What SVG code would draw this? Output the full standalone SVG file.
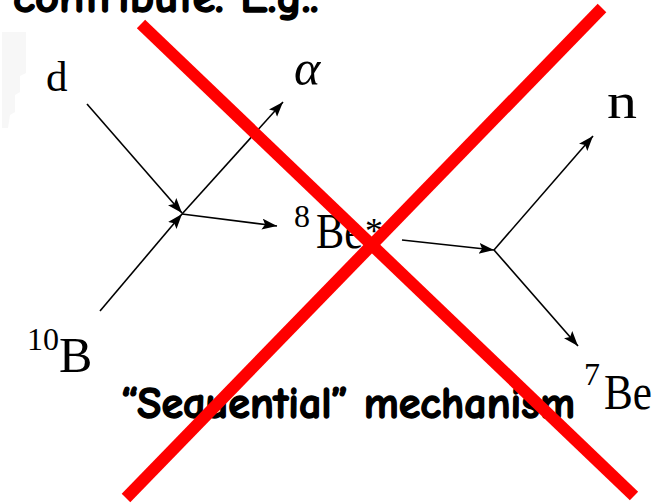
<svg xmlns="http://www.w3.org/2000/svg" width="663" height="504" viewBox="0 0 663 504">
<style>
.lbl{font-family:"Liberation Serif","Times New Roman",serif;fill:#000}
.big{font-size:50px}
.sup{font-size:32px}
.comic{font-family:"Comic Neue","DejaVu Sans","Liberation Sans",sans-serif;font-weight:bold;font-size:44px;fill:#000;stroke:#000;stroke-width:1.4;stroke-linejoin:round}
.arr{stroke:#000;stroke-width:1.6;fill:none;marker-end:url(#ah)}
.x{stroke:#ff0000;stroke-width:12;stroke-linecap:butt}
</style>
<defs>
<marker id="ah" markerUnits="userSpaceOnUse" markerWidth="16" markerHeight="12" refX="15" refY="5.5" orient="auto">
<path d="M0,0 L15,5.5 L0,11 L3,5.5 z" fill="#000"/>
</marker>
</defs>
<rect width="663" height="504" fill="#fff"/>
<polygon points="2,32 26,32 26,73 20,76 20,92 15,95 15,112 10,115 8,128 2,128" fill="#f7f7f7"/>
<text class="comic" x="13" y="12" textLength="307" lengthAdjust="spacingAndGlyphs">contribute. E.g.:</text>
<g id="d"><text class="lbl" x="46" y="91" font-size="43">d</text></g>
<g id="alpha"><text class="lbl big" x="294" y="85" font-style="italic">α</text></g>
<g id="n"><text class="lbl big" x="607" y="118" textLength="30" lengthAdjust="spacingAndGlyphs">n</text></g>
<g id="B10"><text class="lbl sup" x="27" y="350">10</text><text class="lbl big" x="59" y="372">B</text></g>
<g id="Be8"><text class="lbl sup" x="294" y="227">8</text><text class="lbl big" x="316" y="248" textLength="47" lengthAdjust="spacingAndGlyphs">Be</text><text class="lbl" x="365" y="243" font-size="36">*</text></g>
<g id="Be7"><text class="lbl sup" x="584" y="385">7</text><text class="lbl big" x="604" y="409" textLength="48" lengthAdjust="spacingAndGlyphs">Be</text></g>
<g id="connectors">
<line class="arr" x1="87" y1="104" x2="182" y2="213"/>
<line class="arr" x1="100" y1="311" x2="182" y2="214"/>
<line class="arr" x1="182" y1="214" x2="283" y2="102"/>
<line class="arr" x1="182" y1="214" x2="277" y2="226"/>
<line class="arr" x1="402" y1="240" x2="494" y2="250"/>
<line class="arr" x1="494" y1="250" x2="593" y2="136"/>
<line class="arr" x1="494" y1="250" x2="578" y2="346"/>
</g>
<text class="comic" x="121" y="418" textLength="454" lengthAdjust="spacingAndGlyphs">“Sequential” mechanism</text>
<g id="cross">
<line class="x" x1="141" y1="24" x2="634" y2="496"/>
<line class="x" x1="602" y1="8" x2="126" y2="498"/>
</g>
</svg>
